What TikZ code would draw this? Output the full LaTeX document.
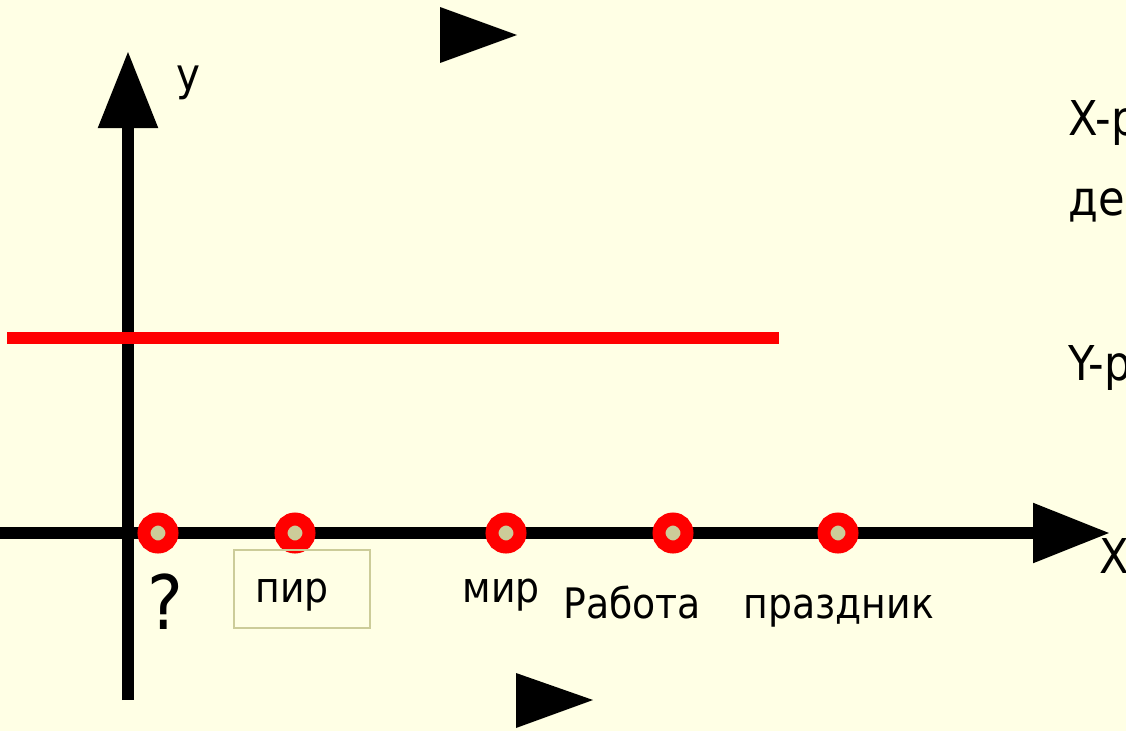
\documentclass[tikz,border=0pt]{standalone}
\usepackage{fontspec}
\setmainfont{DejaVu Sans Condensed}
\usetikzlibrary{arrows.meta}

\definecolor{paper}{RGB}{255,255,229}
\definecolor{tan}{RGB}{204,204,153}

\tikzset{
  axis/.style={line width=12pt, -{Triangle[length=77pt,width=57pt]}},
  ring/.style={circle, draw=red, line width=13pt, fill=tan, minimum size=28pt, inner sep=0pt},
  lbl/.style={anchor=base, inner sep=0pt, font=\fontsize{42}{50}\selectfont},
  side/.style={anchor=base west, inner sep=0pt, font=\fontsize{48}{56}\selectfont},
  flag/.style={fill=black}
}

\begin{document}
\begin{tikzpicture}[x=1pt, y=-1pt]
  \useasboundingbox (0,0) rectangle (1126,731);
  \clip (0,0) rectangle (1126,731);
  \fill[paper] (0,0) rectangle (1126,731);

  % axes
  \coordinate (xs) at (0,533);
  \coordinate (xe) at (1110,533);
  \coordinate (ys) at (128,700);
  \coordinate (ye) at (128,51);
  \draw[axis] (xs) -- (xe);
  \draw[axis] (ys) -- (ye);
  \node[side, font=\fontsize{45}{50}\selectfont] (ylab) at (176,90) {y};
  \node[side] (xlab) at (1099,573) {X};

  % level line
  \coordinate (ls) at (7,338);
  \coordinate (le) at (779,338);
  \draw[red, line width=12pt] (ls) -- (le);

  % flags
  \fill[flag] (440,7) -- (517,35) -- (440,63) -- cycle;
  \fill[flag] (516,673) -- (593,700) -- (516,728) -- cycle;

  % points on the axis
  \node[ring] (p1) at (158,533) {};
  \node[ring] (p2) at (295,533) {};
  \node[ring] (p3) at (506,533) {};
  \node[ring] (p4) at (673,533) {};
  \node[ring] (p5) at (838,533) {};

  % labels
  \node[lbl, font=\fontsize{75}{80}\selectfont] (q) at (165,629) {?};
  \node[draw=tan, line width=1.5pt, minimum width=136pt, minimum height=78pt] (pirbox) at (302,589) {};
  \node[lbl] (pir) at (292,602) {пир};
  \node[lbl] (mir) at (501,602) {мир};
  \node[lbl] (rab) at (632,618) {Работа};
  \node[lbl] (prz) at (839,618) {праздник};

  % side notes
  \node[side] (xnote) at (1068,135) {X-р};
  \node[side] (dnote) at (1068,215) {дея};
  \node[side] (ynote) at (1068,380) {Y-р};
\end{tikzpicture}
\end{document}
